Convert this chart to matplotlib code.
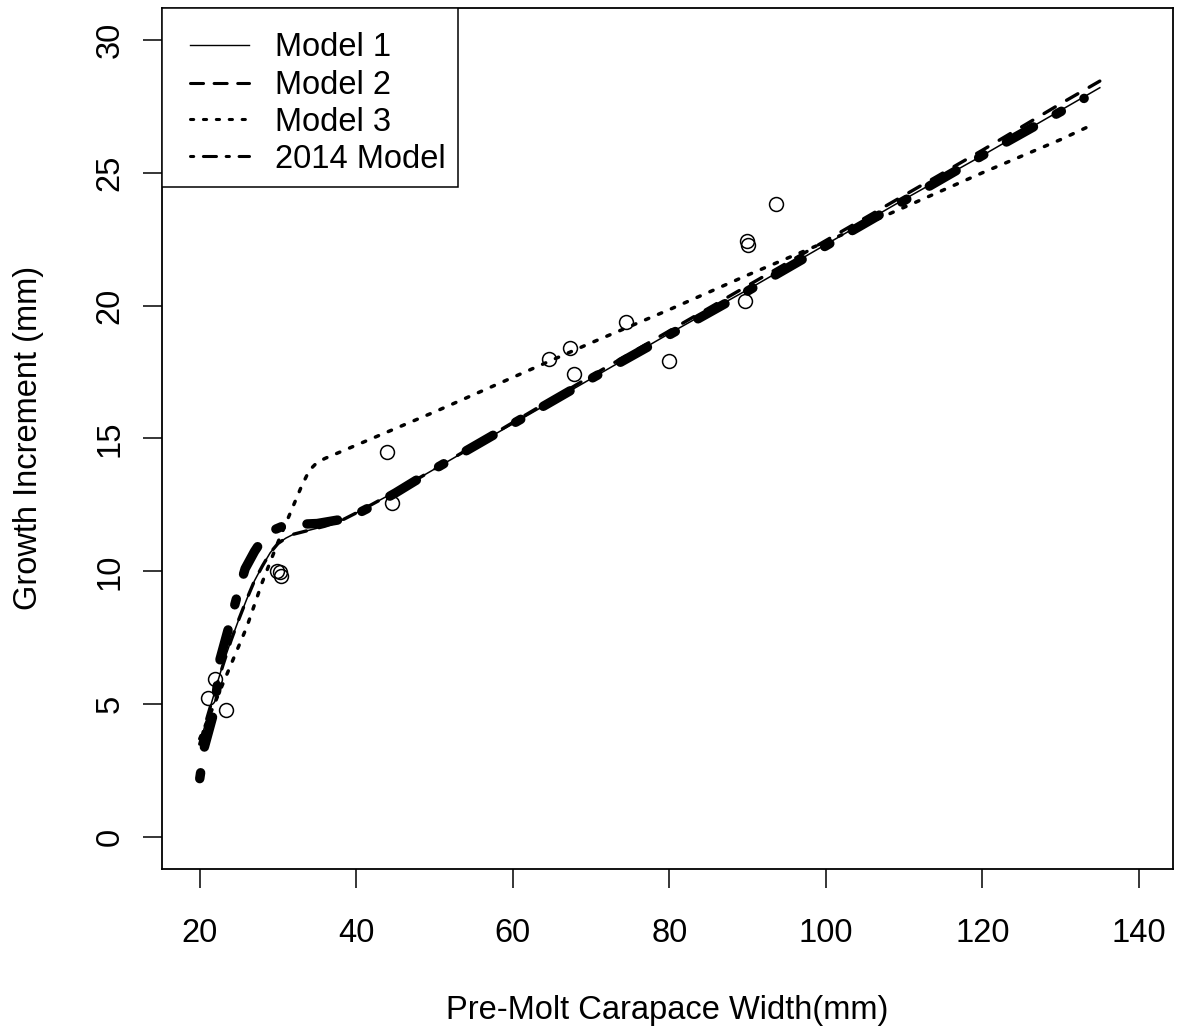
import matplotlib.pyplot as plt
from matplotlib.patches import Rectangle

plt.rcParams['font.family'] = ['Liberation Sans', 'DejaVu Sans']
plt.rcParams['lines.scale_dashes'] = False

# observed molts
width = [21.0, 22.0, 23.3, 29.9, 30.2, 30.4, 43.9, 44.6, 64.6, 67.3, 67.8,
         74.4, 79.9, 89.7, 89.9, 90.0, 93.6]
increment = [5.23, 5.94, 4.79, 10.01, 9.99, 9.82, 14.5, 12.58, 18.0, 18.4, 17.44,
             19.4, 17.93, 20.16, 22.42, 22.27, 23.83]

# fitted curves
m12_x = [20, 21, 22, 23, 24, 25, 26, 27, 28, 29, 30, 31, 32, 34, 36, 38, 40,
         45, 50, 60, 70, 80, 90, 100, 110, 120, 130, 135]
model1 = [3.5, 4.55, 5.55, 6.55, 7.4, 8.2, 8.95, 9.65, 10.2, 10.7, 11.05, 11.25,
          11.4, 11.55, 11.7, 11.9, 12.2, 13.0, 13.85, 15.55, 17.25, 18.95, 20.6,
          22.3, 24.0, 25.65, 27.35, 28.2]
model2 = [3.5, 4.55, 5.55, 6.5, 7.4, 8.2, 8.95, 9.65, 10.2, 10.7, 11.05, 11.25,
          11.4, 11.55, 11.7, 11.9, 12.2, 13.0, 13.85, 15.6, 17.35, 19.05, 20.75,
          22.45, 24.15, 25.85, 27.6, 28.45]

m3_x = [20, 22, 24, 26, 28, 30, 32, 33, 34, 35, 36, 38, 40, 50, 60, 70, 80, 90,
        100, 110, 120, 130, 134]
model3 = [3.7, 5.1, 6.5, 7.9, 9.6, 11.1, 12.5, 13.2, 13.8, 14.1, 14.25, 14.5,
          14.75, 16.0, 17.3, 18.6, 19.85, 21.15, 22.4, 23.7, 25.0, 26.25, 26.8]

m14_x = [20, 20.6, 21.9, 22.6, 23.9, 24.8, 25.8, 27, 28, 29, 31, 35, 39, 42, 45,
         50, 60, 70, 80, 90, 100, 110, 120, 130, 133]
model2014 = [2.2, 3.4, 4.8, 6.7, 8.1, 9.1, 10.1, 10.75, 11.2, 11.5, 11.75, 11.8,
             12.0, 12.45, 12.95, 13.85, 15.55, 17.25, 18.9, 20.55, 22.25, 23.95,
             25.65, 27.3, 27.8]

labels = ["Model 1", "Model 2", "Model 3", "2014 Model"]

FS = 23.5
W, H = 1181, 1030
L, R, T, B = 161.7, 1173.0, 8.0, 869.0

fig = plt.figure(figsize=(W / 100, H / 100), dpi=100)
ax = fig.add_axes([L / W, 1 - B / H, (R - L) / W, (B - T) / H])

ax.plot(width, increment, linestyle='none', marker='o', markersize=10,
        markerfacecolor='none', markeredgecolor='black', markeredgewidth=1.1)

ax.plot(m12_x, model1, color='black', lw=1.1)
ax.plot(m12_x, model2, color='black', lw=2.4, dashes=(9.4, 9.4),
        dash_capstyle='round')
ax.plot(m3_x, model3, color='black', lw=2.5, dashes=(2.5, 7.6),
        dash_capstyle='round')
ax.plot(m14_x, model2014, color='black', lw=6.8, dashes=(4.3, 18.7, 22.3, 18.7),
        dash_capstyle='round', solid_capstyle='round')

ax.set_xlim(15.14, 144.35)
ax.set_ylim(-1.2, 31.2)
ax.set_xticks(range(20, 141, 20))
ax.set_yticks(range(0, 31, 5))
for s in ax.spines.values():
    s.set_linewidth(1.3)
ax.tick_params(length=14, width=1.1, labelsize=FS, direction='out')
ax.tick_params(axis='x', pad=21)
ax.tick_params(axis='y', pad=12, labelrotation=90)
for t in ax.get_yticklabels():
    t.set_verticalalignment('center')

fig.text(667 / W, 1 - 1019 / H, "Pre-Molt Carapace Width(mm)", fontsize=FS,
         ha='center', va='baseline')
fig.text(29 / W, 1 - 438 / H, "Growth Increment (mm)", fontsize=FS,
         ha='center', va='center', rotation=90)


# legend drawn by hand to match the R layout
def axp(px, py):
    return (px - L) / (R - L), (B - py) / (B - T)


x0, y0 = axp(161.7, 186.7)
x1, y1 = axp(457.7, 8.0)
ax.add_patch(Rectangle((x0, y0), x1 - x0, y1 - y0, transform=ax.transAxes,
                       facecolor='white', edgecolor='black', lw=1.1, zorder=5))
styles = [dict(lw=1.0),
          dict(lw=2.2, dashes=(9.4, 7.6), dash_capstyle='round'),
          dict(lw=2.2, dashes=(2.3, 7.0), dash_capstyle='round'),
          dict(lw=2.2, dashes=(2.3, 7.0, 9.4, 7.0), dash_capstyle='round')]
rows = [44.5, 82.5, 119.0, 156.0]
for lab, st, py in zip(labels, styles, rows):
    lx0, ly = axp(190.0, py)
    lx1, _ = axp(249.0, py)
    ax.plot([lx0, lx1], [ly, ly], color='black', transform=ax.transAxes,
            clip_on=False, zorder=6, **st)
    tx, ty = axp(275.0, py + 11.7)
    ax.text(tx, ty, lab, transform=ax.transAxes, fontsize=FS, ha='left',
            va='baseline', zorder=6)

fig.savefig("out.png", dpi=100)
